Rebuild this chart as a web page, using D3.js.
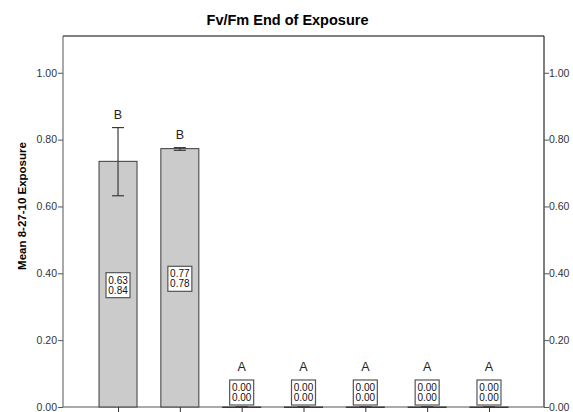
<!DOCTYPE html>
<html>
<head>
<meta charset="utf-8">
<script src="https://cdn.jsdelivr.net/npm/d3@7"></script>
<style>
    html, body { margin: 0; padding: 0; background: #fff; }
    svg { display: block; font-family: "Liberation Sans", Arial, sans-serif; }
    .tick-label { font-size: 10.5px; fill: #333; }
    .box-text { font-size: 10px; fill: #111; }
    .letter { font-size: 12.5px; fill: #222; }
</style>
</head>
<body>
<svg id="chart" width="573" height="412"></svg>
<script>
const groups = ["1", "2", "3", "4", "5", "6", "7"];
const means = [0.735, 0.773, 0, 0, 0, 0, 0];
const ciLow = [0.632, 0.768, 0, 0, 0, 0, 0];
const ciHigh = [0.836, 0.776, 0, 0, 0, 0, 0];
const letters = ["B", "B", "A", "A", "A", "A", "A"];
const yTicks = [0, 0.2, 0.4, 0.6, 0.8, 1.0];

const svg = d3.select("#chart");
const plotLeft = 63, plotRight = 544, plotTop = 36, plotBottom = 407;

const x = d3.scalePoint().domain(groups).range([plotLeft, plotRight]).padding(0.89);
const y = d3.scaleLinear().domain([0, 1.11]).range([plotBottom, plotTop]);
const barW = 38;
const fmt = d3.format(".2f");

// title
svg.append("text")
    .attr("x", 287.5)
    .attr("y", 25)
    .attr("text-anchor", "middle")
    .style("font-size", "14.5px")
    .style("font-weight", "bold")
    .text("Fv/Fm End of Exposure");

// y label
svg.append("text")
    .attr("transform", "translate(26,206) rotate(-90)")
    .attr("text-anchor", "middle")
    .style("font-size", "11.5px")
    .style("font-weight", "bold")
    .text("Mean 8-27-10 Exposure");

// frame top
svg.append("line")
    .attr("x1", plotLeft).attr("x2", plotRight)
    .attr("y1", plotTop).attr("y2", plotTop)
    .attr("stroke", "#000");

// left axis
const yLeft = svg.append("g")
    .attr("transform", `translate(${plotLeft},0)`)
    .call(d3.axisLeft(y).tickValues(yTicks).tickFormat(fmt).tickSize(5).tickSizeOuter(0));
yLeft.attr("font-size", null).attr("font-family", null);
yLeft.select(".domain").attr("d", `M0,${plotTop}V${plotBottom}`).attr("stroke", "#555");
yLeft.selectAll(".tick line").attr("stroke", "#555");
yLeft.selectAll(".tick text").attr("class", "tick-label").attr("x", -6).attr("fill", null);

// right axis
const yRight = svg.append("g")
    .attr("transform", `translate(${plotRight},0)`)
    .call(d3.axisRight(y).tickValues(yTicks).tickFormat(fmt).tickSize(5).tickSizeOuter(0));
yRight.attr("font-size", null).attr("font-family", null);
yRight.select(".domain").attr("d", `M0,${plotTop}V${plotBottom}`).attr("stroke", "#000");
yRight.selectAll(".tick line").attr("stroke", "#555");
yRight.selectAll(".tick text").attr("class", "tick-label").attr("x", 5).attr("fill", null);

// x axis
const xAxis = svg.append("g")
    .attr("transform", `translate(0,${plotBottom})`)
    .call(d3.axisBottom(x).tickFormat("").tickSize(5).tickSizeOuter(0));
xAxis.select(".domain").attr("d", `M${plotLeft},0H${plotRight}`).attr("stroke", "#555");
xAxis.selectAll(".tick line").attr("stroke", "#333");

// bars
svg.selectAll(".bar")
    .data(groups)
    .enter()
    .append("rect")
    .attr("class", "bar")
    .attr("x", (d) => x(d) - barW / 2)
    .attr("y", (d, i) => y(means[i]))
    .attr("width", barW)
    .attr("height", (d, i) => Math.max(0.5, plotBottom - y(means[i])))
    .attr("fill", "#cbcbcb")
    .attr("stroke", "#3a3a3a")
    .attr("stroke-width", 1);

// error bars
const eb = svg.selectAll(".err")
    .data(groups)
    .enter()
    .append("g")
    .attr("class", "err")
    .attr("stroke", "#3a3a3a")
    .attr("stroke-width", 1.2);
eb.append("line")
    .attr("x1", (d) => x(d)).attr("x2", (d) => x(d))
    .attr("y1", (d, i) => y(ciLow[i])).attr("y2", (d, i) => y(ciHigh[i]));
eb.append("line")
    .attr("x1", (d) => x(d) - 6).attr("x2", (d) => x(d) + 6)
    .attr("y1", (d, i) => y(ciLow[i])).attr("y2", (d, i) => y(ciLow[i]));
eb.append("line")
    .attr("x1", (d) => x(d) - 6).attr("x2", (d) => x(d) + 6)
    .attr("y1", (d, i) => y(ciHigh[i])).attr("y2", (d, i) => y(ciHigh[i]));

// value boxes
const boxW = 24, boxH = 25;
function boxCenter(i) {
    const mid = (plotBottom + y(means[i])) / 2 + 1;
    return Math.min(mid, plotBottom - 2 - boxH / 2);
}
const boxes = svg.selectAll(".vbox")
    .data(groups)
    .enter()
    .append("g")
    .attr("class", "vbox")
    .attr("transform", (d, i) => `translate(${x(d)},${boxCenter(i)})`);
boxes.append("rect")
    .attr("x", -boxW / 2).attr("y", -boxH / 2)
    .attr("width", boxW).attr("height", boxH)
    .attr("fill", "#fff")
    .attr("stroke", "#555")
    .attr("stroke-width", 1.2);
boxes.append("text")
    .attr("class", "box-text")
    .attr("text-anchor", "middle")
    .attr("y", -1.5)
    .text((d, i) => fmt(ciLow[i]));
boxes.append("text")
    .attr("class", "box-text")
    .attr("text-anchor", "middle")
    .attr("y", 8.5)
    .text((d, i) => fmt(ciHigh[i]));

// letters
svg.selectAll(".letter")
    .data(groups)
    .enter()
    .append("text")
    .attr("class", "letter")
    .attr("text-anchor", "middle")
    .attr("x", (d) => x(d))
    .attr("y", (d, i) => Math.min(y(ciHigh[i]), boxCenter(i) - boxH / 2) - 9)
    .text((d, i) => letters[i]);
</script>
</body>
</html>
